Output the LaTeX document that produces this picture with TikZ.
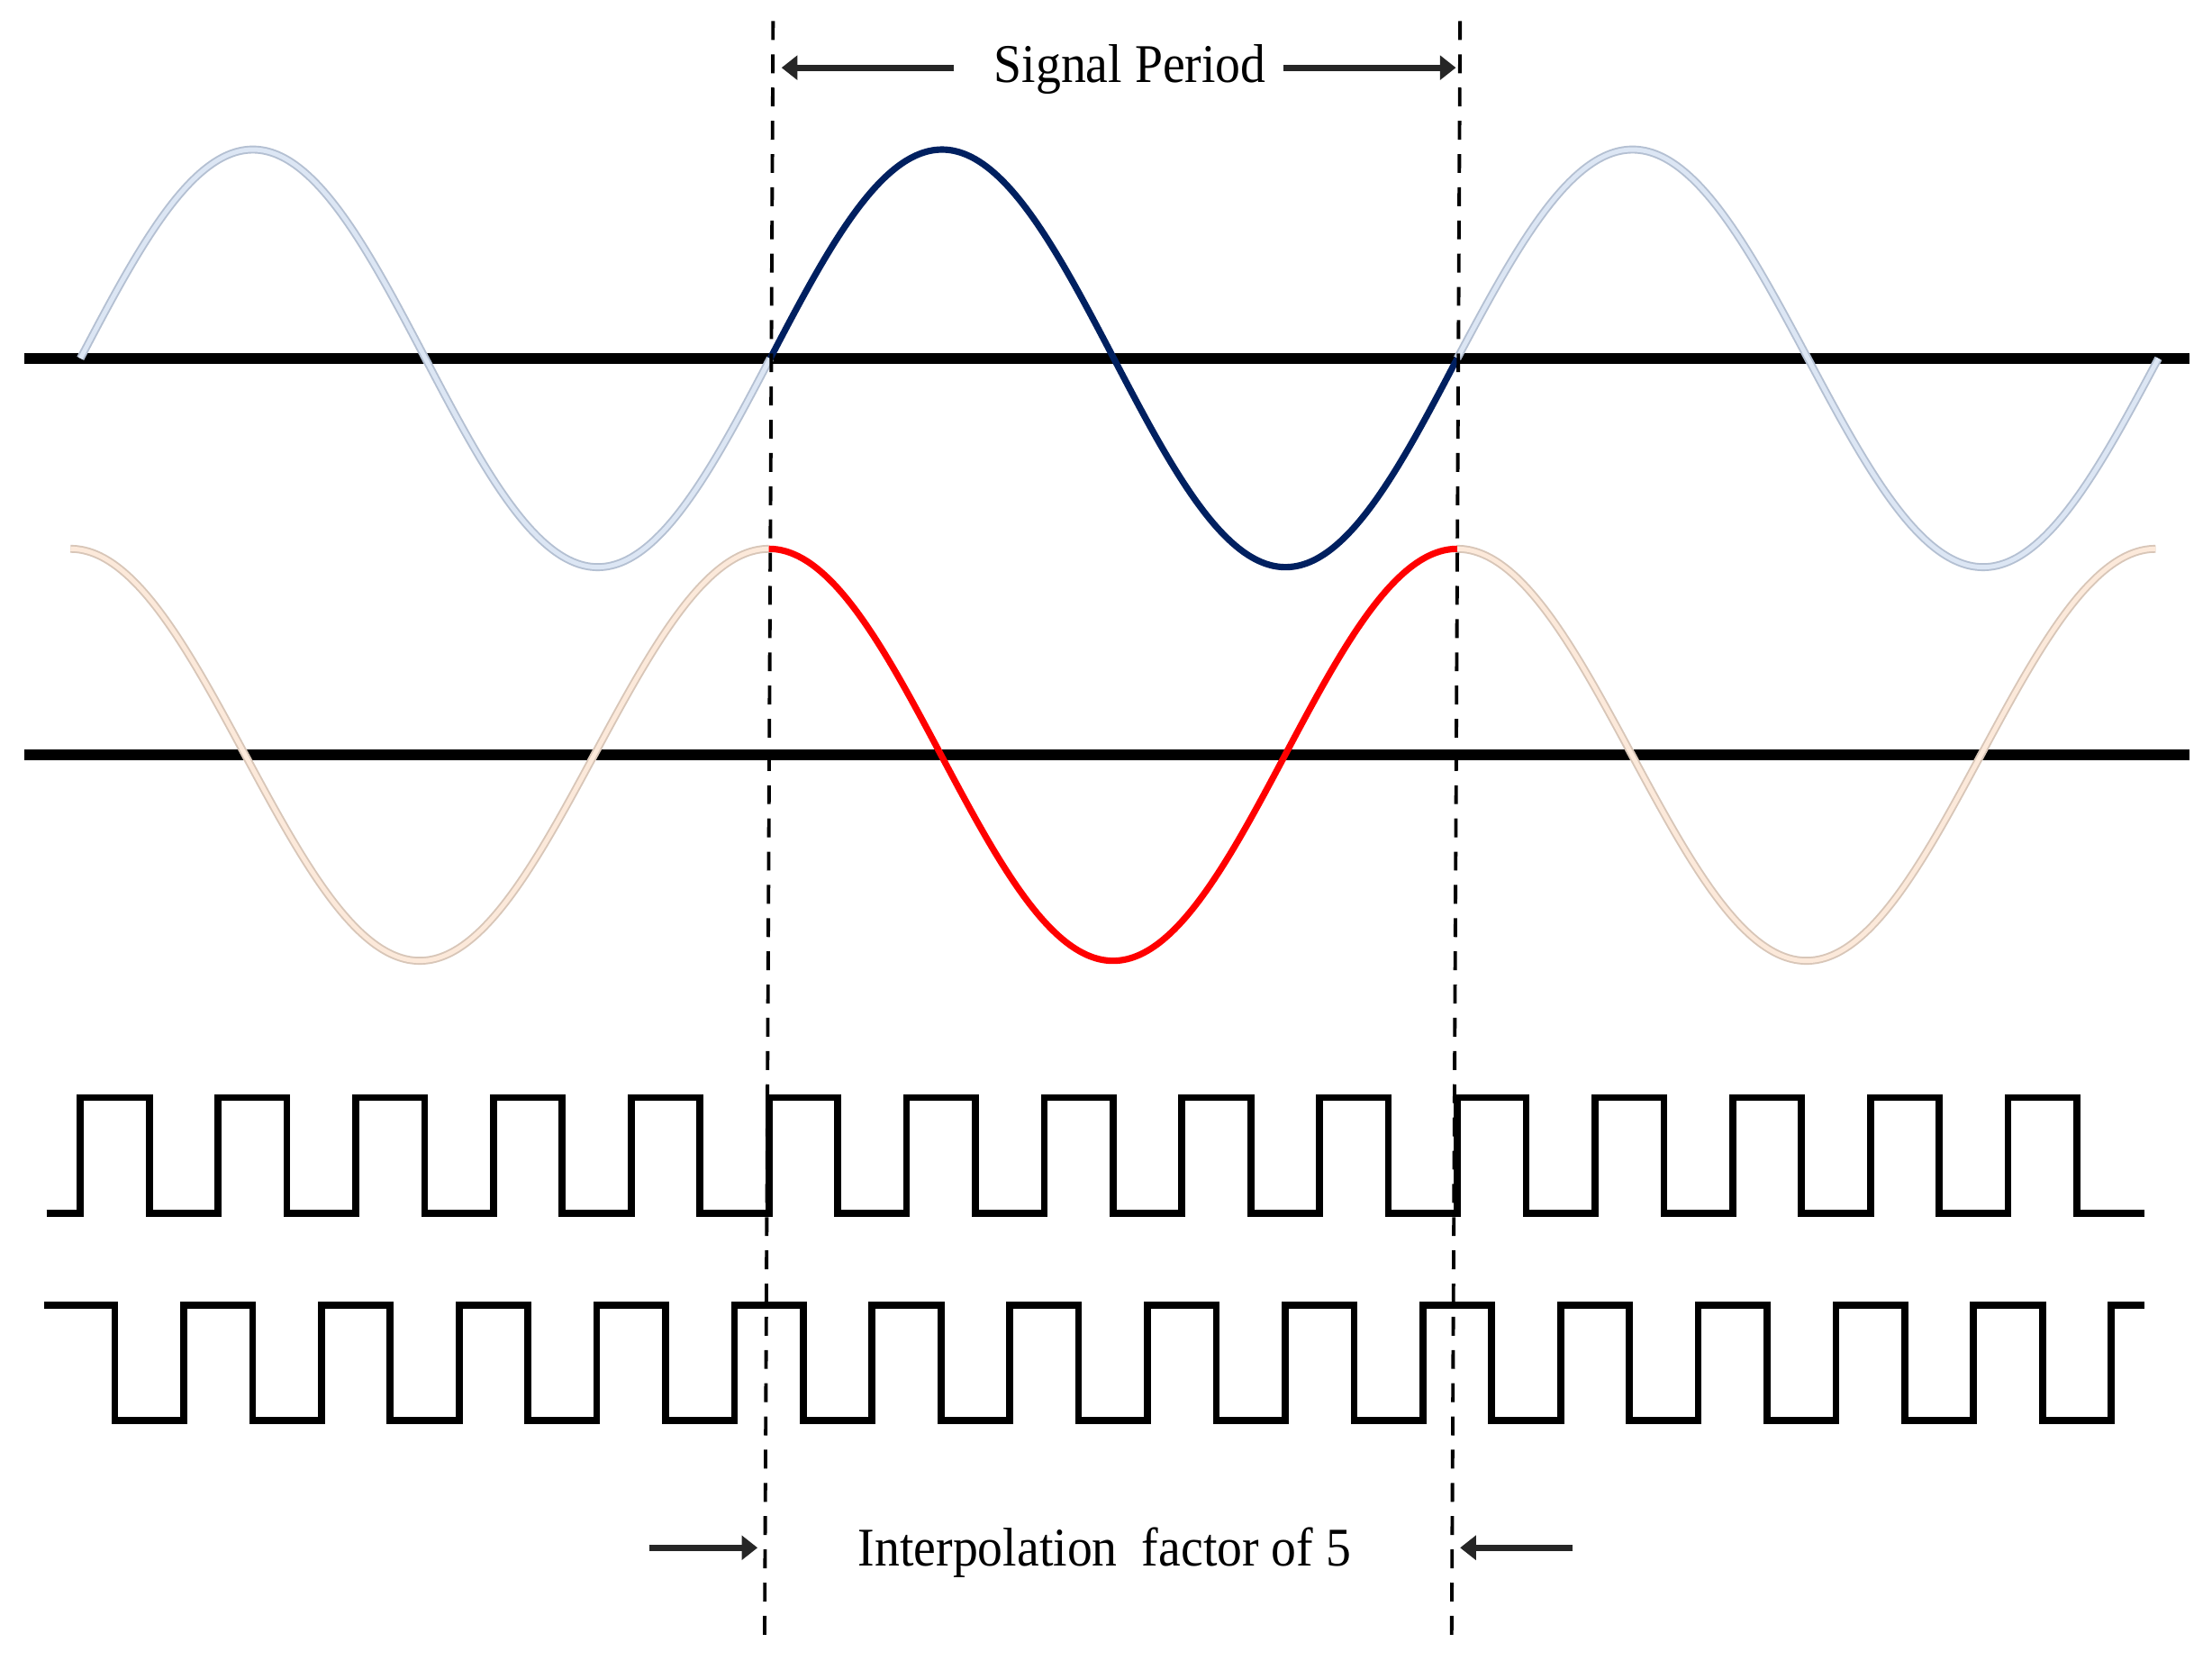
\documentclass[tikz,border=0pt]{standalone}
\usepackage{fontspec}
\setmainfont{Liberation Serif}[FakeStretch=0.92]
\usetikzlibrary{arrows.meta}
\definecolor{navyc}{HTML}{002060}
\definecolor{redc}{HTML}{FF0000}
\definecolor{lbin}{HTML}{DCE6F4}
\definecolor{lbedge}{HTML}{B4C0D2}
\definecolor{loin}{HTML}{FCE9DA}
\definecolor{loedge}{HTML}{D8C6B8}
\tikzset{
  axisline/.style={line width=2.2pt, black},
  lightblue/.style={draw=lbedge, line width=0.35pt, double=lbin, double distance=0.9pt},
  lightorange/.style={draw=loedge, line width=0.35pt, double=loin, double distance=0.9pt},
  mainblue/.style={navyc, line width=1.3pt},
  mainred/.style={redc, line width=1.3pt},
  sqwave/.style={black, line width=1.4pt, line join=miter},
  periodline/.style={black, line width=0.7pt, dash pattern=on 3.8pt off 2.9pt},
  lblarrow/.style={black!85, line width=1.3pt, -{Triangle[length=3.2pt,width=4.8pt]}},
  lbl/.style={font=\fontsize{11}{13}\selectfont, inner sep=0pt, anchor=base}
}
\begin{document}
\begin{tikzpicture}
\useasboundingbox (0,0) rectangle (15.68,-11.767);
\fill[white] (0,0) rectangle (15.68,-11.767);

% axes
\coordinate (ax1l) at (0.17,-2.54);
\coordinate (ax1r) at (15.52,-2.54);
\coordinate (ax2l) at (0.17,-5.35);
\coordinate (ax2r) at (15.52,-5.35);
\draw[axisline] (ax1l) -- (ax1r);
\draw[axisline] (ax2l) -- (ax2r);

% sine (upper)
\draw[lightblue] plot[domain=0.57:5.46, samples=120, smooth] (\x, {-2.54 + 1.48*sin(360*(\x-0.57)/4.89)});
\draw[lightblue] plot[domain=10.33:15.30, samples=120, smooth] (\x, {-2.54 + 1.48*sin(360*(\x-10.33)/4.97)});
\draw[mainblue] plot[domain=5.46:10.33, samples=120, smooth] (\x, {-2.54 + 1.48*sin(360*(\x-5.46)/4.87)});

% cosine (lower)
\draw[lightorange] plot[domain=0.50:5.45, samples=120, smooth] (\x, {-5.35 + 1.46*cos(360*(\x-0.50)/4.95)});
\draw[lightorange] plot[domain=10.33:15.28, samples=120, smooth] (\x, {-5.35 + 1.46*cos(360*(\x-10.33)/4.95)});
\draw[mainred] plot[domain=5.45:10.33, samples=120, smooth] (\x, {-5.35 + 1.46*cos(360*(\x-5.45)/4.88)});

% square waves
\draw[sqwave] (0.33,-8.60) foreach \k in {0,...,14} { -- ({0.57+0.976*\k},-8.60) -- ++(0,0.82) -- ++(0.488,0) -- ++(0,-0.82) } -- (15.20,-8.60);
\draw[sqwave] (0.31,-9.25) foreach \k in {0,...,14} { -- ({0.814+0.976*\k},-9.25) -- ++(0,-0.82) -- ++(0.488,0) -- ++(0,0.82) } -- (15.20,-9.25);

% period markers
\coordinate (dlt) at (5.48,-0.15);
\coordinate (dlb) at (5.42,-11.61);
\coordinate (drt) at (10.35,-0.15);
\coordinate (drb) at (10.29,-11.61);
\draw[periodline] (dlt) -- (dlb);
\draw[periodline] (drt) -- (drb);

% labels
\node[lbl] (sp) at (8.01,-0.586) {Signal Period};
\node[lbl] (ip) at (7.83,-11.10) {Interpolation\hspace{0.45em}factor of 5};

\coordinate (spLt) at (6.76,-0.48);
\coordinate (spLh) at (5.54,-0.48);
\coordinate (spRt) at (9.10,-0.48);
\coordinate (spRh) at (10.32,-0.48);
\draw[lblarrow] (spLt) -- (spLh);
\draw[lblarrow] (spRt) -- (spRh);

\coordinate (ipLt) at (4.60,-10.97);
\coordinate (ipLh) at (5.37,-10.97);
\coordinate (ipRt) at (11.15,-10.97);
\coordinate (ipRh) at (10.35,-10.97);
\draw[lblarrow] (ipLt) -- (ipLh);
\draw[lblarrow] (ipRt) -- (ipRh);
\end{tikzpicture}
\end{document}
